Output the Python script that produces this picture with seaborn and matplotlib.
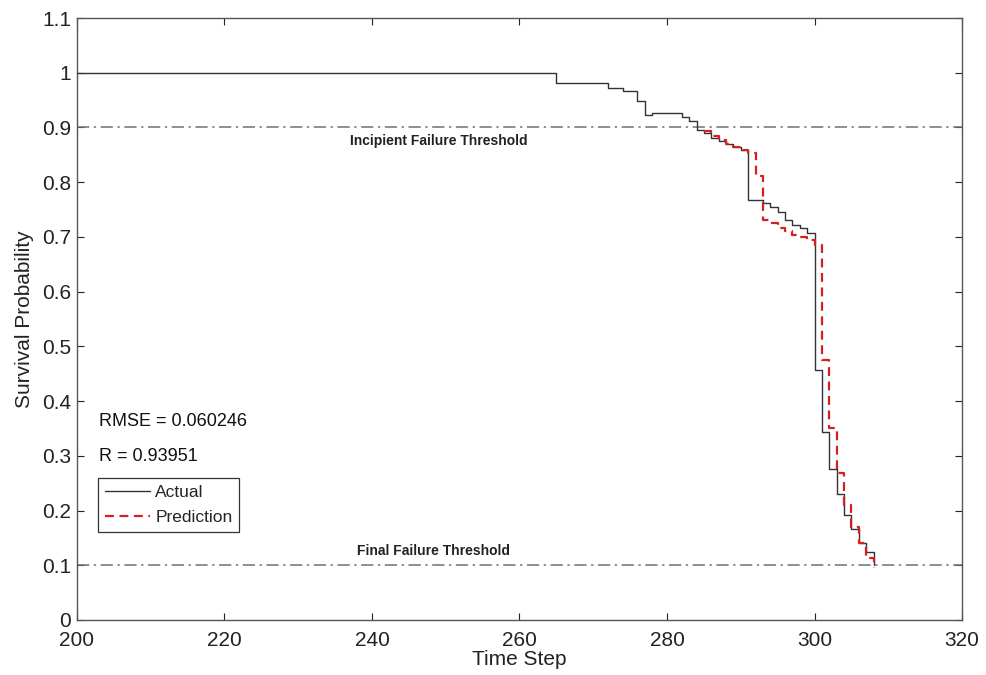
import matplotlib
matplotlib.use("Agg")
import matplotlib.pyplot as plt
import seaborn as sns
import pandas as pd

# ---- data ----
actual_t = [200, 265, 272, 274, 276, 277, 278, 282, 283, 284, 285, 286, 287, 288, 289, 290,
            291, 293, 294, 295, 296, 297, 298, 299, 300, 301, 302, 303, 304, 305, 306, 307, 308]
actual_p = [1.000, 0.981, 0.973, 0.967, 0.949, 0.923, 0.926, 0.920, 0.912, 0.896, 0.890, 0.881,
            0.876, 0.870, 0.864, 0.858, 0.767, 0.762, 0.754, 0.745, 0.731, 0.722, 0.716, 0.707,
            0.457, 0.344, 0.275, 0.230, 0.192, 0.166, 0.140, 0.125, 0.100]

pred_t = [285, 286, 287, 288, 289, 290, 291, 292, 293, 294, 295, 296, 297, 298, 299, 300,
          301, 302, 303, 304, 305, 306, 307, 308]
pred_p = [0.893, 0.885, 0.877, 0.870, 0.865, 0.858, 0.853, 0.812, 0.731, 0.725, 0.716, 0.710,
          0.704, 0.700, 0.695, 0.686, 0.475, 0.350, 0.269, 0.210, 0.170, 0.140, 0.113, 0.095]

thresholds = [0.9, 0.1]
threshold_labels = ["Incipient Failure Threshold", "Final Failure Threshold"]
stats_text = ["RMSE = 0.060246", "R = 0.93951"]
x_ticks = [200, 220, 240, 260, 280, 300, 320]
y_ticks = [0, 0.1, 0.2, 0.3, 0.4, 0.5, 0.6, 0.7, 0.8, 0.9, 1, 1.1]
y_tick_labels = ["0", "0.1", "0.2", "0.3", "0.4", "0.5", "0.6", "0.7", "0.8", "0.9", "1", "1.1"]

sns.set_theme(style="white")
plt.rcParams["font.family"] = ["Liberation Sans", "DejaVu Sans"]

fig = plt.figure(figsize=(9.86, 6.75), dpi=100)
ax = fig.add_axes([0.078, 0.0815, 0.8977, 0.8918])

df_a = pd.DataFrame({"t": actual_t, "p": actual_p})
df_p = pd.DataFrame({"t": pred_t, "p": pred_p})

for yv in thresholds:
    ax.axhline(yv, color="#707070", lw=1.1, ls=(0, (8, 3, 1.5, 3)), zorder=1)

sns.lineplot(data=df_a, x="t", y="p", ax=ax, color="#333333", lw=1.0,
             drawstyle="steps-post", sort=False, label="Actual", zorder=3)
sns.lineplot(data=df_p, x="t", y="p", ax=ax, color="#d42020", lw=1.6,
             ls=(0, (4, 2.5)), drawstyle="steps-post", sort=False, label="Prediction", zorder=4)

ax.text(249, 0.876, threshold_labels[0], ha="center", va="center", fontsize=10,
        fontweight="bold", color="#222222")
ax.text(248.3, 0.126, threshold_labels[1], ha="center", va="center", fontsize=10,
        fontweight="bold", color="#222222")
ax.text(203, 0.362, stats_text[0], ha="left", va="center", fontsize=13, color="#111111")
ax.text(203, 0.298, stats_text[1], ha="left", va="center", fontsize=13, color="#111111")

ax.set_xlim(200, 320)
ax.set_ylim(0, 1.1)
ax.set_xticks(x_ticks)
ax.set_yticks(y_ticks)
ax.set_yticklabels(y_tick_labels)
ax.set_xlabel("Time Step", fontsize=15, labelpad=0, color="#222222")
ax.set_ylabel("Survival Probability", fontsize=15, labelpad=6, color="#222222")
ax.tick_params(axis="both", which="both", direction="in", length=5, width=0.8,
               labelsize=15, top=True, right=True, bottom=True, left=True,
               colors="#222222", pad=4)
ax.tick_params(axis="x", pad=8)
for s in ax.spines.values():
    s.set_visible(True)
    s.set_color("#555555")
    s.set_linewidth(1.0)

leg = ax.legend(loc="upper left", bbox_to_anchor=(0.0237, 0.236), fontsize=12.5,
                frameon=True, fancybox=False, framealpha=1, edgecolor="#333333",
                handlelength=2.6, handletextpad=0.3, borderpad=0.4, labelspacing=0.55,
                borderaxespad=0)
leg.get_frame().set_linewidth(0.9)

fig.savefig("out.png", dpi=100, facecolor="white")
